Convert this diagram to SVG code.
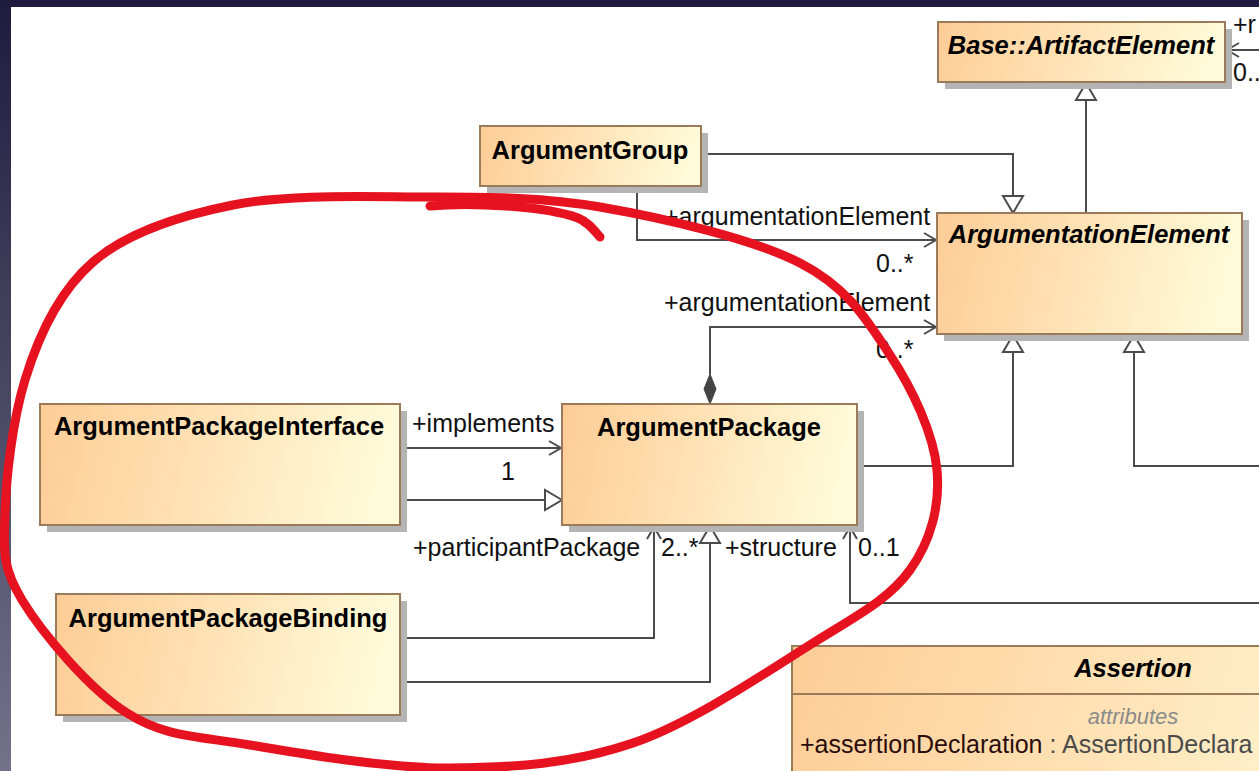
<svg xmlns="http://www.w3.org/2000/svg" width="1259" height="771" viewBox="0 0 1259 771">
  <defs>
    <linearGradient id="nodeFill" x1="0" y1="0" x2="1" y2="0.08">
      <stop offset="0" stop-color="#fdcc96"/>
      <stop offset="0.5" stop-color="#ffe3b6"/>
      <stop offset="1" stop-color="#fffbda"/>
    </linearGradient>
    <linearGradient id="frameSide" x1="0" y1="0" x2="0" y2="1">
      <stop offset="0" stop-color="#1d1c3e"/>
      <stop offset="0.45" stop-color="#44435f"/>
      <stop offset="1" stop-color="#73728b"/>
    </linearGradient>
    <style>
      .box { fill: url(#nodeFill); stroke: #9a7a58; stroke-width: 2; }
      .shadow { fill: #b4b4b4; }
      .title { font-family: "Liberation Sans", Arial, sans-serif; font-size: 25.5px; font-weight: bold; fill: #000; text-anchor: middle; }
      .abstract { font-style: italic; }
      .lbl { font-family: "Liberation Sans", Arial, sans-serif; font-size: 25px; fill: #111; }
      .edge { fill: none; stroke: #4b4b4b; stroke-width: 2; }
      .head { fill: none; stroke: #4b4b4b; stroke-width: 2; stroke-linejoin: miter; }
      .tri { fill: #fff; stroke: #4b4b4b; stroke-width: 2; }
      .ink { fill: none; stroke: #e6121f; stroke-width: 9; stroke-linecap: round; stroke-linejoin: round; }
    </style>
  </defs>

  <!-- window frame -->
  <rect x="0" y="0" width="1259" height="771" fill="#1d1c3e"/>
  <rect x="0" y="0" width="11" height="771" fill="url(#frameSide)"/>
  <rect x="11" y="7" width="1248" height="764" fill="#ffffff"/>

  <!-- connectors -->
  <g id="connectors">
    <!-- association into Base::ArtifactElement from the right -->
    <path class="edge" d="M1259,50 L1227,50"/>
    <path class="head" d="M1239,43 L1227,50 L1239,57"/>
    <text class="lbl" x="1233" y="33">+r</text>
    <text class="lbl" x="1233" y="81">0..</text>

    <!-- ArgumentationElement generalizes Base::ArtifactElement -->
    <path class="edge" d="M1086,213 L1086,100"/>
    <polygon class="tri" points="1086,83 1076,100 1096,100"/>

    <!-- ArgumentGroup generalizes ArgumentationElement -->
    <path class="edge" d="M701,154 L1013,154 L1013,196"/>
    <polygon class="tri" points="1013,213 1003,196 1023,196"/>

    <!-- ArgumentGroup -> ArgumentationElement -->
    <path class="edge" d="M637,186 L637,240 L936,240"/>
    <path class="head" d="M924,233 L936,240 L924,247"/>
    <text class="lbl" x="664" y="225">+argumentationElement</text>
    <text class="lbl" x="876" y="272">0..*</text>

    <!-- ArgumentPackage composition of ArgumentationElement -->
    <path class="edge" d="M710,374 L710,327 L936,327"/>
    <path class="head" d="M924,320 L936,327 L924,334"/>
    <polygon points="710,404 716,389 710,374 704,389" fill="#444" stroke="#444" stroke-width="1"/>
    <text class="lbl" x="664" y="311">+argumentationElement</text>
    <text class="lbl" x="876" y="358">0..*</text>

    <!-- ArgumentPackage generalizes ArgumentationElement -->
    <path class="edge" d="M857,466 L1013,466 L1013,352"/>
    <polygon class="tri" points="1013,335 1003,352 1023,352"/>

    <!-- generalization entering from the right -->
    <path class="edge" d="M1259,466 L1134,466 L1134,352"/>
    <polygon class="tri" points="1134,335 1124,352 1144,352"/>

    <!-- ArgumentPackageInterface -> ArgumentPackage (implements) -->
    <path class="edge" d="M400,448 L561,448"/>
    <path class="head" d="M549,441 L561,448 L549,455"/>
    <text class="lbl" x="412" y="432">+implements</text>
    <text class="lbl" x="501" y="480">1</text>

    <!-- ArgumentPackageInterface generalizes ArgumentPackage -->
    <path class="edge" d="M400,500 L545,500"/>
    <polygon class="tri" points="562,500 545,490 545,510"/>

    <!-- ArgumentPackageBinding -> ArgumentPackage (participantPackage) -->
    <path class="edge" d="M400,638 L654,638 L654,527"/>
    <path class="head" d="M647,539 L654,527 L661,539"/>
    <text class="lbl" x="413" y="556">+participantPackage</text>
    <text class="lbl" x="661" y="556">2..*</text>

    <!-- ArgumentPackageBinding generalizes ArgumentPackage -->
    <path class="edge" d="M400,682 L710,682 L710,543"/>
    <polygon class="tri" points="710,526 700,543 720,543"/>

    <!-- structure association -->
    <path class="edge" d="M1259,603 L850,603 L850,527"/>
    <path class="head" d="M843,539 L850,527 L857,539"/>
    <text class="lbl" x="725" y="556">+structure</text>
    <text class="lbl" x="858" y="556">0..1</text>
  </g>

  <!-- classes -->
  <g id="base-artifact-element">
    <rect class="shadow" x="945" y="29" width="287" height="60"/>
    <rect class="box" x="938" y="22" width="287" height="60"/>
    <text class="title abstract" x="1081" y="54">Base::ArtifactElement</text>
  </g>

  <g id="argument-group">
    <rect class="shadow" x="487" y="133" width="221" height="60"/>
    <rect class="box" x="480" y="126" width="221" height="60"/>
    <text class="title" x="590" y="159">ArgumentGroup</text>
  </g>

  <g id="argumentation-element">
    <rect class="shadow" x="944" y="220" width="305" height="121"/>
    <rect class="box" x="937" y="213" width="305" height="121"/>
    <text class="title abstract" x="1089" y="243">ArgumentationElement</text>
  </g>

  <g id="argument-package-interface">
    <rect class="shadow" x="47" y="411" width="360" height="121"/>
    <rect class="box" x="40" y="404" width="360" height="121"/>
    <text class="title" x="219" y="435">ArgumentPackageInterface</text>
  </g>

  <g id="argument-package">
    <rect class="shadow" x="569" y="411" width="295" height="121"/>
    <rect class="box" x="562" y="404" width="295" height="121"/>
    <text class="title" x="709" y="436">ArgumentPackage</text>
  </g>

  <g id="argument-package-binding">
    <rect class="shadow" x="63" y="601" width="344" height="121"/>
    <rect class="box" x="56" y="594" width="344" height="121"/>
    <text class="title" x="228" y="627">ArgumentPackageBinding</text>
  </g>

  <g id="assertion">
    <rect class="box" x="792" y="646" width="690" height="160"/>
    <line x1="792" y1="694" x2="1482" y2="694" stroke="#9a7a58" stroke-width="2"/>
    <text class="title abstract" x="1133" y="677">Assertion</text>
    <text x="1133" y="724" font-family="Liberation Sans, Arial, sans-serif" font-size="22" font-style="italic" fill="#8a8a8a" text-anchor="middle">attributes</text>
    <text x="800" y="753" font-family="Liberation Sans, Arial, sans-serif" font-size="25"><tspan fill="#2a0c0c">+assertionDeclaration</tspan><tspan fill="#4a4a4a"> : AssertionDeclara</tspan></text>
  </g>

  <!-- hand-drawn highlight loop -->
  <g id="highlight">
    <path class="ink" d="M233,205 C287.5,194.2 358.8,196.7 420,197 C481.2,197.3 536.7,196 600,207 C663.3,218 751.7,238.3 800,263 C848.3,287.7 867.2,320.5 890,355 C912.8,389.5 933.7,434.2 937,470 C940.3,505.8 930.7,541.2 910,570 C889.3,598.8 859.2,614.2 813,643 C766.8,671.8 693.5,722.2 633,743 C572.5,763.8 513.8,767.7 450,768 C386.2,768.3 303.8,754.2 250,745 C196.2,735.8 165,737.2 127,713 C89,688.8 42.3,633.3 22,600 C1.7,566.7 3.7,549.7 5,513 C6.3,476.3 12.3,421.8 25,380 C37.7,338.2 59.2,291.2 93,262 C126.8,232.8 178.5,215.8 233,205"/>
    <path class="ink" d="M430,206 C470,202 545,206 578,218 C588,222 594,230 600,237"/>
  </g>
</svg>
